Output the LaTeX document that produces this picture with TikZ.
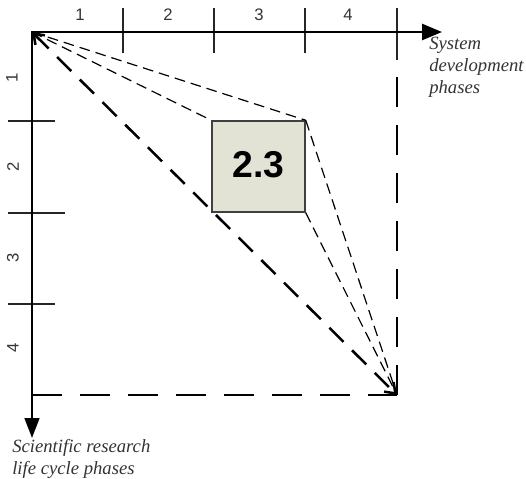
\documentclass[tikz,border=0pt]{standalone}
\usepackage{fontspec}
\setmainfont{Liberation Serif}
\newfontfamily\sansfont{Liberation Sans}
\usetikzlibrary{arrows.meta}
\begin{document}
\begin{tikzpicture}[x=0.75pt,y=-0.75pt,
 axis/.style={line width=2pt, {Triangle[length=15pt,width=11pt]}-{Triangle[length=15pt,width=12pt]}},
 tickmark/.style={line width=0.9pt, black!85},
 longdash/.style={line width=1.1pt, dash pattern=on 22.5pt off 13.5pt},
 thindash/.style={line width=0.9pt, dash pattern=on 8pt off 4.5pt},
 diagdash/.style={line width=1.9pt, dash pattern=on 15pt off 9pt, {Straight Barb[length=7pt,width=10pt]}-{Straight Barb[length=7pt,width=10pt]}},
 phasebox/.style={draw=black!75, line width=1.1pt, fill={rgb,255:red,227;green,227;blue,213}, minimum width=69.75pt, minimum height=68.25pt, inner sep=0pt, font=\sansfont\bfseries\fontsize{28}{30}\selectfont},
 num/.style={font=\sansfont\fontsize{12.5}{14}\selectfont, text=black!80, inner sep=0pt},
 caption/.style={font=\itshape\fontsize{14}{16.5}\selectfont, text=black!80, anchor=base west, inner sep=0pt}
]
\useasboundingbox (0,0) rectangle (526,479);
\coordinate (O) at (32,32);
\coordinate (C) at (397,395);
\coordinate (xend) at (442,32);
\coordinate (yend) at (32,438);
\coordinate (bl) at (32,395);
\coordinate (vt) at (397,8);

% long dashed frame lines
\draw[longdash] (bl) -- (C);
\draw[longdash] (C) -- (vt);

% ticks
\foreach \x in {123,214,305} \draw[tickmark] (\x,8) -- (\x,53);
\draw[tickmark] (397,8) -- (397,60);
\draw[tickmark] (8,121) -- (55,121);
\draw[tickmark] (8,213) -- (65,213);
\draw[tickmark] (8,304) -- (55,304);

% axes
\draw[axis] (yend) -- (O) -- (xend);

% box
\node[phasebox] (B) at (258.5,166.5) {\raisebox{3pt}{2.3}};

% thin dashed connectors
\draw[thindash] (O) -- (B.north west);
\draw[thindash] (O) -- (B.north east);
\draw[thindash] (B.north east) -- (C);
\draw[thindash] (B.south east) -- (C);

% thick diagonal
\draw[diagdash] (O) -- (C);

% axis numbers
\node[num] (h1) at (80,15) {1};
\node[num] (h2) at (168,15) {2};
\node[num] (h3) at (259,15) {3};
\node[num] (h4) at (348,15) {4};
\node[num, rotate=90] (v1) at (12,78) {1};
\node[num, rotate=90] (v2) at (13,167) {2};
\node[num, rotate=90] (v3) at (13,258) {3};
\node[num, rotate=90] (v4) at (13,348) {4};

% captions
\node[caption] (sys) at (429,49) {\begin{tabular}[t]{@{}l@{}}System\\development\\phases\end{tabular}};
\node[caption] (sci) at (12,452) {\begin{tabular}[t]{@{}l@{}}Scientific research\\life cycle phases\end{tabular}};
\end{tikzpicture}
\end{document}
